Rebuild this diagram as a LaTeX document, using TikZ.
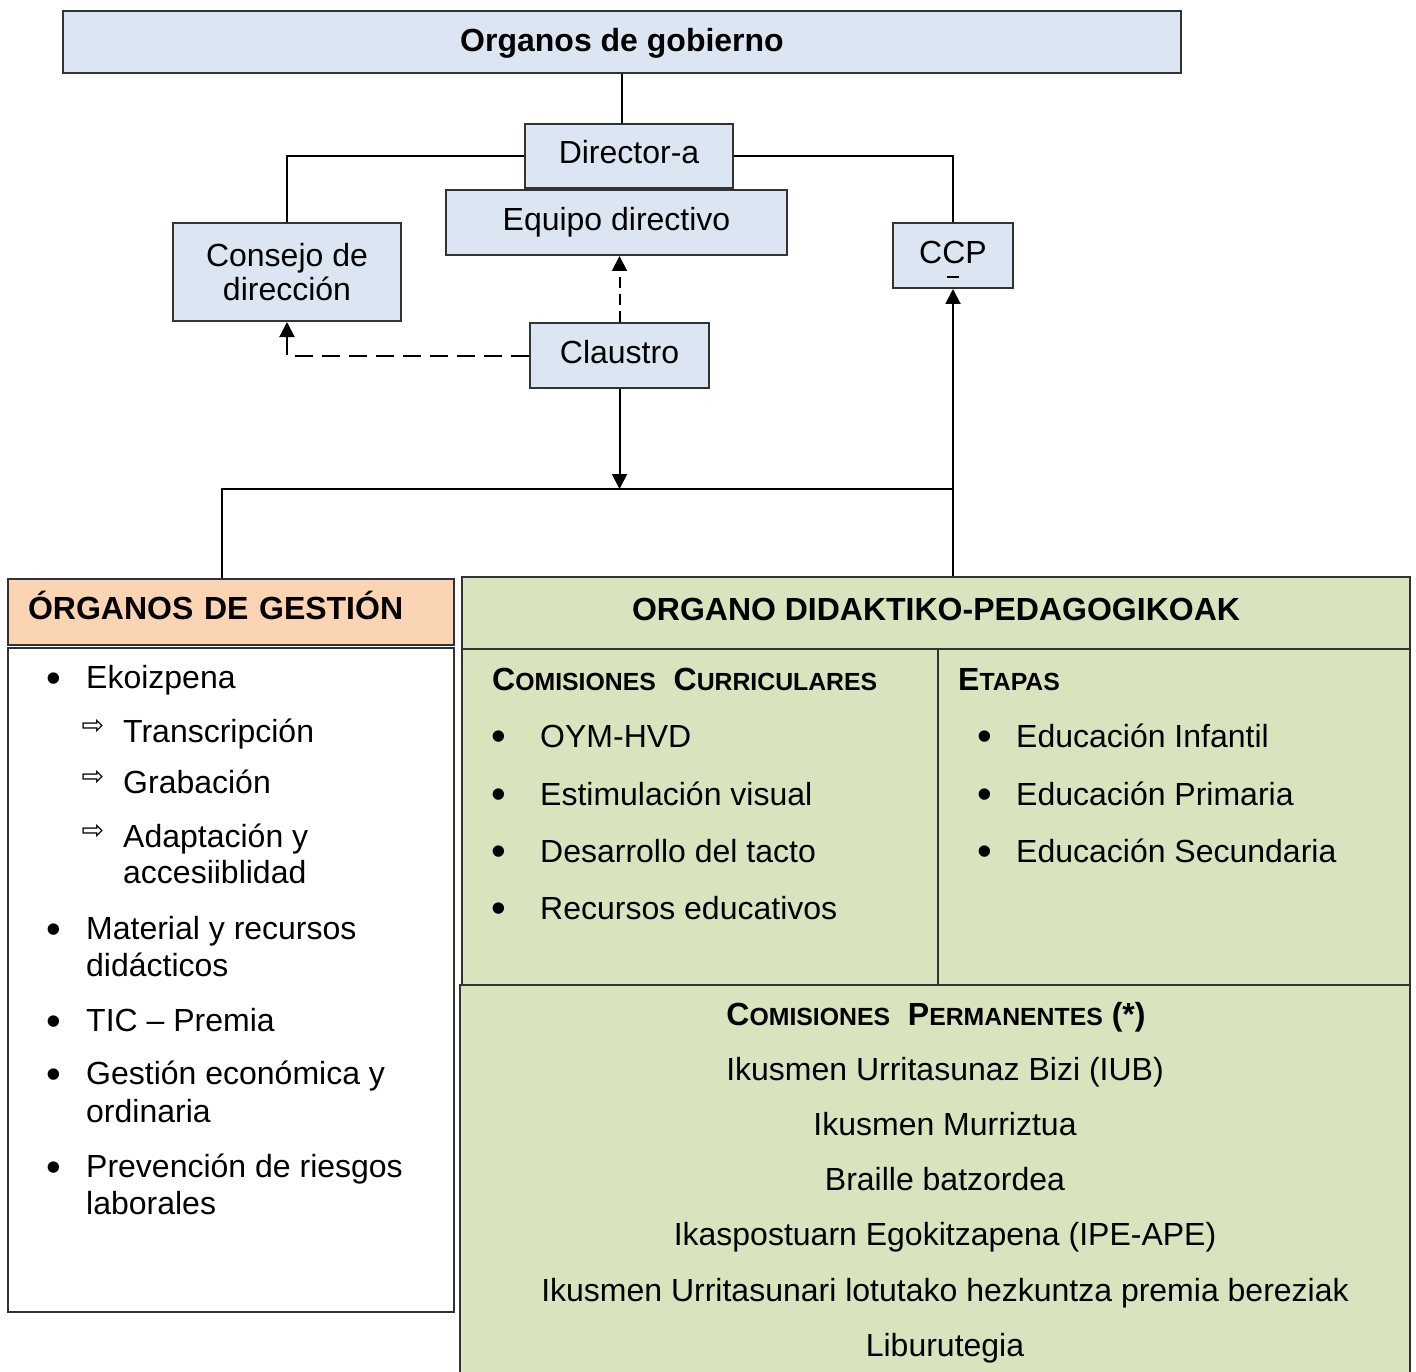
\documentclass[tikz,border=0pt]{standalone}
\usepackage{fontspec}
\setmainfont{Liberation Sans}
\newfontfamily\arrowfont{DejaVu Sans}
\usetikzlibrary{arrows.meta}
\definecolor{gobierno}{RGB}{220,230,242}
\definecolor{gestion}{RGB}{251,212,180}
\definecolor{didak}{RGB}{215,228,189}
\newcommand{\bodyfont}{\fontsize{32}{36.7}\selectfont}
\newcommand{\fakesc}[2]{{\fontsize{32}{36.7}\selectfont#1}{\fontsize{24.8}{30}\selectfont#2}}
\tikzset{
  plainbox/.style={draw=black!80, line width=2pt, fill=gobierno, inner sep=0pt, font=\bodyfont},
  govbox/.style={plainbox, text height=22.5pt, text depth=7pt},
  panel/.style={govbox, fill=didak},
  link/.style={line width=2pt},
  arrowlink/.style={link, -{Triangle[length=15pt,width=15pt]}},
  item/.style={inner sep=0pt, anchor=base west, font=\bodyfont},
  dot/.style={inner sep=0pt, anchor=center, font=\fontsize{42}{42}\selectfont},
  subarrow/.style={inner sep=0pt, anchor=center, font=\arrowfont\fontsize{27}{27}\selectfont}
}

\begin{document}
\begin{tikzpicture}[x=1pt,y=-1pt]
\useasboundingbox (0,0) rectangle (1416,1372);
\clip (0,0) rectangle (1416,1372);
\node[govbox, text depth=4pt, minimum width=1118pt, minimum height=62pt, font=\bodyfont\bfseries] (gob) at (622,42) {Organos de gobierno};
\node[govbox, minimum width=208pt, minimum height=64pt] (dir) at (629,156) {Director-a};
\node[govbox, minimum width=341pt, minimum height=65pt] (equipo) at (616.5,222.5) {Equipo directivo};
\node[plainbox, align=center, minimum width=228pt, minimum height=98pt, font=\fontsize{32}{34}\selectfont] (consejo) at (287,272) {Consejo de\\dirección};
\node[govbox, minimum width=120pt, minimum height=65pt] (ccp) at (953,255.5) {CCP};
\node[govbox, minimum width=179pt, minimum height=65pt] (claustro) at (619.5,355.5) {Claustro};

\node[govbox, fill=gestion, text width=406pt, inner xsep=20pt, align=left, minimum height=66pt, font=\bodyfont\bfseries] (gesthead) at (231,612) {ÓRGANOS DE GESTIÓN};
\node[plainbox, fill=white, minimum width=446pt, minimum height=664pt] (gestbody) at (231,980) {};
\node[panel, minimum width=948pt, minimum height=72pt, font=\bodyfont\bfseries] (didhead) at (936,613) {ORGANO DIDAKTIKO-PEDAGOGIKOAK};
\node[panel, minimum width=476pt, minimum height=336pt] (curric) at (700,817) {};
\node[panel, minimum width=472pt, minimum height=336pt] (etapas) at (1174,817) {};
\node[panel, minimum width=950pt, minimum height=405pt] (perm) at (935,1187.5) {};

\draw[link] (gob) -- (gob |- dir.north);
\draw[link] (dir.west) -| (consejo.north);
\draw[link] (dir.east) -| (ccp.north);
\draw[arrowlink, dash pattern=on 11pt off 6pt] (claustro.north) -- (claustro.north |- equipo.south);
\draw[arrowlink, dash pattern=on 18pt off 9pt] (claustro.west) -| (consejo.south);
\coordinate (busl) at (222,489);
\coordinate (busr) at (953,489);
\draw[arrowlink] (claustro.south) -- (claustro.south |- busl);
\draw[link] (gesthead.north -| busl) -- (busl) -- (busr);
\draw[arrowlink] (didhead.north -| ccp) -- (ccp.south);
\draw[line width=1.2pt] ([xshift=-6pt,yshift=-21.5pt]ccp.center) -- ++(12,0);

\foreach \yy [count=\i] in {688,939,1031,1084,1177}
  \node[dot] (gb\i) at (54,\yy-5.5) {•};
\foreach \yy/\txt [count=\i] in {688/Ekoizpena,939/Material y recursos,976/didácticos,1031/TIC – Premia,1084/Gestión económica y,1122/ordinaria,1177/Prevención de riesgos,1214/laborales}
  \node[item] (gt\i) at (86,\yy) {\txt};
\foreach \yy [count=\i] in {742,793,847}
  \node[subarrow] (ga\i) at (93,\yy-15) {⇨};
\foreach \yy/\txt [count=\i] in {742/Transcripción,793/Grabación,847/Adaptación y,883/accesiiblidad}
  \node[item] (gs\i) at (123,\yy) {\txt};

\node[item, font=\bodyfont\bfseries] (curhead) at (492,690) {\fakesc{C}{OMISIONES}\ \ \fakesc{C}{URRICULARES}};
\foreach \yy/\txt [count=\i] in {747/OYM-HVD,805/Estimulación visual,862/Desarrollo del tacto,919/Recursos educativos}{
  \node[dot] (cb\i) at (499,\yy-6) {•};
  \node[item] (ct\i) at (540,\yy) {\txt};
}
\node[item, font=\bodyfont\bfseries] (etahead) at (958,690) {\fakesc{E}{TAPAS}};
\foreach \yy/\txt [count=\i] in {747/Educación Infantil,805/Educación Primaria,862/Educación Secundaria}{
  \node[dot] (eb\i) at (985,\yy-6) {•};
  \node[item] (et\i) at (1016,\yy) {\txt};
}

\node[item, anchor=base, font=\bodyfont\bfseries] (permhead) at (936,1025) {\fakesc{C}{OMISIONES}\ \ \fakesc{P}{ERMANENTES} (*)};
\foreach \txt [count=\i] in {Ikusmen Urritasunaz Bizi (IUB),Ikusmen Murriztua,Braille batzordea,Ikaspostuarn Egokitzapena (IPE-APE),Ikusmen Urritasunari lotutako hezkuntza premia bereziak,Liburutegia}
  \node[item, anchor=base] (pl\i) at (945,{1024.7+55.3*\i}) {\txt};
\end{tikzpicture}
\end{document}
